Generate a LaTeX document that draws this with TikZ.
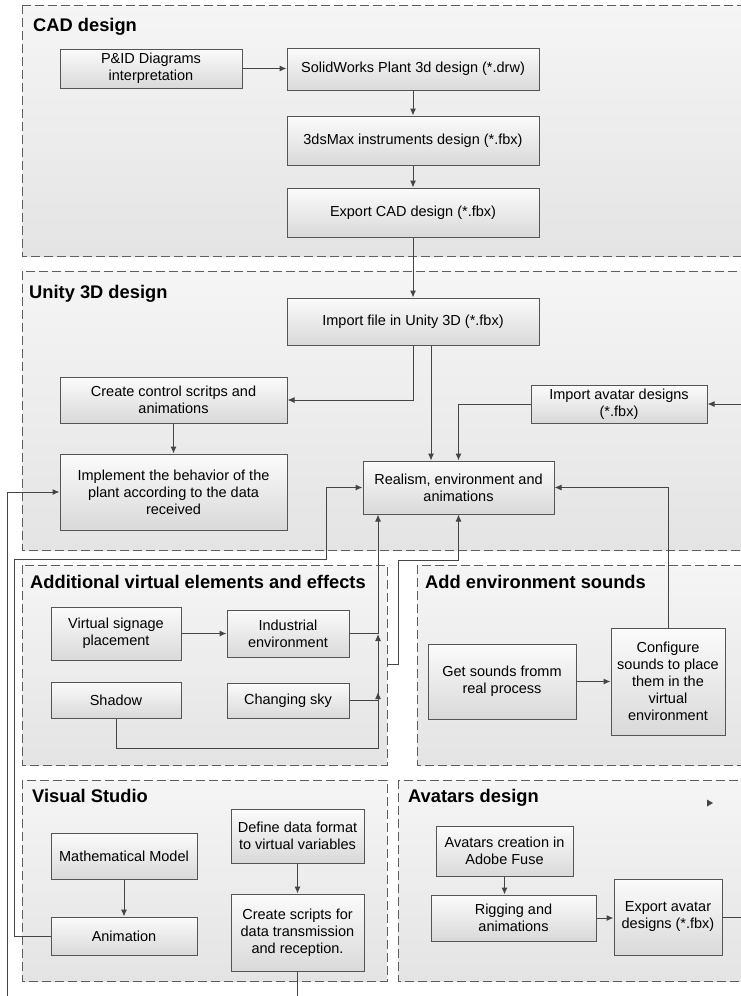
\documentclass[tikz,border=0pt]{standalone}
\usepackage{fontspec}
\setmainfont{Liberation Sans}
\usetikzlibrary{arrows.meta,shadows,calc}
\definecolor{lineC}{HTML}{454545}
\definecolor{boxC}{HTML}{555555}
\definecolor{frameC}{HTML}{5E5E5E}
\definecolor{frTop}{HTML}{F5F5F5}
\definecolor{frBot}{HTML}{E4E4E4}
\definecolor{bxTop}{HTML}{FBFBFB}
\definecolor{bxBot}{HTML}{D9D9D9}
\tikzset{
  stepbox/.style={draw=boxC, line width=1pt, top color=bxTop, bottom color=bxBot,
    align=center, inner sep=2pt, font=\fontsize{14.5}{17}\selectfont,
    drop shadow={shadow xshift=1.2pt, shadow yshift=-1.2pt, opacity=0.35, fill=black!60}},
  frame/.style={draw=frameC, line width=1pt, dash pattern=on 9pt off 4pt, top color=frTop, bottom color=frBot},
  ftitle/.style={anchor=base west, inner sep=0pt, font=\bfseries\fontsize{18.3}{21}\selectfont},
  arr/.style={draw=lineC, line width=1pt, -{Latex[length=7pt,width=6pt]}},
  ln/.style={draw=lineC, line width=1pt}
}
\begin{document}
\begin{tikzpicture}[x=1pt,y=-1pt]
\useasboundingbox (0,0) rectangle (741,996);
\clip (0,0) rectangle (741,996);
\fill[white] (0,0) rectangle (741,996);
% frames
\path[frame] (22,5) rectangle (770,256);
\path[frame] (22,271) rectangle (770,550);
\path[frame] (22,565) rectangle (387,765);
\path[frame] (417,565) rectangle (770,765);
\path[frame] (22,780) rectangle (387,981);
\path[frame] (398,780) rectangle (770,981);
\node[ftitle] (t1) at (33,31) {CAD design};
\node[ftitle] (t2) at (29,298) {Unity 3D design};
\node[ftitle] (t3) at (30,588) {Additional virtual elements and effects};
\node[ftitle] (t4) at (425,588) {Add environment sounds};
\node[ftitle] (t5) at (32,802) {Visual Studio};
\node[ftitle] (t6) at (408,802) {Avatars design};
% CAD boxes
\node[stepbox, minimum width=182pt, minimum height=39pt] (pid) at (151,68.5) {P\&ID Diagrams\\interpretation};
\node[stepbox, minimum width=252pt, minimum height=42pt] (sw) at (413,69) {SolidWorks Plant 3d design (*.drw)};
\node[stepbox, minimum width=252pt, minimum height=49pt] (max) at (413,140.5) {3dsMax instruments design (*.fbx)};
\node[stepbox, minimum width=252pt, minimum height=49pt] (exp) at (413,212.5) {Export CAD design (*.fbx)};
% Unity boxes
\node[stepbox, minimum width=252pt, minimum height=47pt] (imp) at (413,321.5) {Import file in Unity 3D (*.fbx)};
\node[stepbox, minimum width=227pt, minimum height=46pt] (ccs) at (173.5,400) {Create control scritps and\\animations};
\node[stepbox, minimum width=227pt, minimum height=76pt] (impl) at (173.5,492) {Implement the behavior of the\\plant according to the data\\received};
\node[stepbox, minimum width=176pt, minimum height=38pt] (iav) at (619,404) {Import avatar designs\\(*.fbx)};
\node[stepbox, minimum width=191pt, minimum height=53pt] (real) at (458.5,487.5) {Realism, environment and\\animations};
% Additional
\node[stepbox, minimum width=130pt, minimum height=53pt] (vsp) at (116,633.5) {Virtual signage\\placement};
\node[stepbox, minimum width=122pt, minimum height=47pt] (ind) at (288,633.5) {Industrial\\environment};
\node[stepbox, minimum width=130pt, minimum height=36pt] (sha) at (116,700) {Shadow};
\node[stepbox, minimum width=122pt, minimum height=35pt] (sky) at (288,700.5) {Changing sky};
% Sounds
\node[stepbox, minimum width=148pt, minimum height=75pt] (get) at (502,681.5) {Get sounds fromm\\real process};
\node[stepbox, minimum width=114pt, minimum height=107pt] (cfg) at (668,681.5) {Configure\\sounds to place\\them in the\\virtual\\environment};
% Visual Studio
\node[stepbox, minimum width=146pt, minimum height=46pt] (math) at (124,856) {Mathematical Model};
\node[stepbox, minimum width=146pt, minimum height=38pt] (anim) at (124,936) {Animation};
\node[stepbox, minimum width=133pt, minimum height=54pt] (def) at (297.5,836) {Define data format\\to virtual variables};
\node[stepbox, minimum width=133pt, minimum height=77pt] (cs) at (297.5,932.5) {Create scripts for\\data transmission\\and reception.};
% Avatars
\node[stepbox, minimum width=137pt, minimum height=50pt] (ac) at (504.5,851) {Avatars creation in\\Adobe Fuse};
\node[stepbox, minimum width=165pt, minimum height=46pt] (rig) at (513.5,918) {Rigging and\\animations};
\node[stepbox, minimum width=108pt, minimum height=76pt] (eav) at (668,917) {Export avatar\\designs (*.fbx)};
% junction coordinates
\coordinate (jx) at (378,0);
\coordinate (j1) at (378,634);
\coordinate (j2) at (378,692);
\coordinate (f3r) at (387,664);
% connectors
\draw[arr] (pid.east) -- (pid.east -| sw.west);
\draw[arr] (sw) -- (max);
\draw[arr] (max) -- (exp);
\draw[arr] (exp) -- (imp);
\draw[arr] (imp.south) |- (ccs.east);
\draw[arr] ([xshift=18pt]imp.south) -- ([xshift=18pt]imp.south |- real.north);
\draw[arr] (iav.west) -| (real.north);
\draw[arr] (eav.east) -- ++(60,0) |- (iav.east);
\draw[arr] (ccs) -- (impl);
\draw[arr] (cs.south) |- (7,1010) |- (impl.west);
\draw[arr] (anim.west) -| (14,559) -- (326,559) |- (real.west);
\draw[arr] (f3r) -- (398,664) -- (398,560) -| (real.south);
\draw[arr] (ind.east) -| (jx |- real.south);
\draw[arr] (sky.east) -| (j1);
\draw[arr] (sha.south) |- (378,748) -- (j2);
\draw[arr] (vsp.east) -- (vsp.east -| ind.west);
\draw[arr] (get.east) -- (get.east -| cfg.west);
\draw[arr] (cfg.north) |- (real.east);
\draw[arr] (math) -- (anim);
\draw[arr] (def) -- (cs);
\draw[arr] (ac.south) -- (ac.south |- rig.north);
\draw[arr] (rig.east) -- (rig.east -| eav.west);
% stray arrowhead
\fill[lineC] (707,799.5) -- (713,803) -- (707,806.5) -- cycle;
\end{tikzpicture}
\end{document}
